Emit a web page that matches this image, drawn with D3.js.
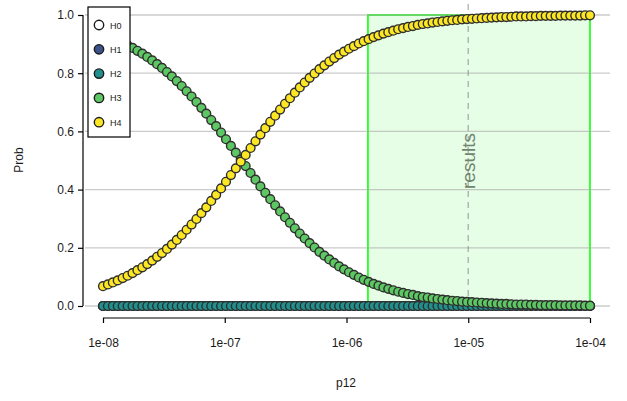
<!DOCTYPE html>
<html>
<head>
<meta charset="utf-8">
<script src="https://cdn.jsdelivr.net/npm/d3@7"></script>
<style>
  html, body { margin: 0; padding: 0; background: #fff; }
  svg { display: block; font-family: "Liberation Sans", Arial, sans-serif; }
</style>
</head>
<body>
<svg id="chart" width="627" height="401"></svg>
<script>
// Sensitivity of hypothesis posteriors to the prior p12
const nPoints = 100;
const p12 = d3.range(nPoints).map(i => Math.pow(10, -8 + 4 * i / (nPoints - 1)));

const H0 = new Array(nPoints).fill(0);
const H1 = new Array(nPoints).fill(0);
const H2 = new Array(nPoints).fill(0);
const H4 = [
  0.068, 0.074, 0.081, 0.088, 0.096, 0.104, 0.113, 0.123, 0.133, 0.144,
  0.156, 0.169, 0.182, 0.196, 0.211, 0.227, 0.244, 0.262, 0.280, 0.299,
  0.319, 0.339, 0.361, 0.382, 0.404, 0.427, 0.450, 0.473, 0.496, 0.519,
  0.543, 0.566, 0.589, 0.611, 0.633, 0.654, 0.675, 0.695, 0.714, 0.733,
  0.751, 0.768, 0.784, 0.799, 0.814, 0.827, 0.840, 0.852, 0.864, 0.874,
  0.884, 0.893, 0.902, 0.910, 0.917, 0.924, 0.930, 0.936, 0.941, 0.946,
  0.951, 0.955, 0.959, 0.962, 0.966, 0.969, 0.971, 0.974, 0.976, 0.978,
  0.980, 0.982, 0.983, 0.985, 0.986, 0.987, 0.988, 0.989, 0.990, 0.991,
  0.992, 0.993, 0.993, 0.994, 0.995, 0.995, 0.995, 0.996, 0.996, 0.997,
  0.997, 0.997, 0.997, 0.998, 0.998, 0.998, 0.998, 0.998, 0.999, 0.999
];
const H3 = [
  0.932, 0.926, 0.919, 0.912, 0.904, 0.896, 0.887, 0.877, 0.867, 0.856,
  0.844, 0.831, 0.818, 0.804, 0.789, 0.773, 0.756, 0.738, 0.720, 0.701,
  0.681, 0.661, 0.639, 0.618, 0.596, 0.573, 0.550, 0.527, 0.504, 0.481,
  0.457, 0.434, 0.411, 0.389, 0.367, 0.346, 0.325, 0.305, 0.286, 0.267,
  0.249, 0.232, 0.216, 0.201, 0.186, 0.173, 0.160, 0.148, 0.136, 0.126,
  0.116, 0.107, 0.098, 0.090, 0.083, 0.076, 0.070, 0.064, 0.059, 0.054,
  0.049, 0.045, 0.041, 0.038, 0.034, 0.031, 0.029, 0.026, 0.024, 0.022,
  0.020, 0.018, 0.017, 0.015, 0.014, 0.013, 0.012, 0.011, 0.010, 0.009,
  0.008, 0.007, 0.007, 0.006, 0.005, 0.005, 0.005, 0.004, 0.004, 0.003,
  0.003, 0.003, 0.003, 0.002, 0.002, 0.002, 0.002, 0.002, 0.001, 0.001
];

const seriesNames = ["H0", "H1", "H2", "H3", "H4"];
const seriesValues = [H0, H1, H2, H3, H4];
const seriesColors = ["#ffffff", "#3b528b", "#21908d", "#5dc863", "#fde725"];

const xTicks = [1e-8, 1e-7, 1e-6, 1e-5, 1e-4];
const xTickLabels = ["1e-08", "1e-07", "1e-06", "1e-05", "1e-04"];
const yTicks = [0, 0.2, 0.4, 0.6, 0.8, 1.0];
const yTickLabels = ["0.0", "0.2", "0.4", "0.6", "0.8", "1.0"];

// highlighted region and reference line
const regionRange = [1.5e-6, 1e-4];
const resultsAt = 1e-5;
const resultsLabel = "results";

const svg = d3.select("#chart");
const x = d3.scaleLog().domain([1e-8, 1e-4]).range([103, 590]);
const y = d3.scaleLinear().domain([0, 1]).range([306, 15]);

// highlighted region (under the grid and the points)
svg.append("rect")
  .attr("x", x(regionRange[0]))
  .attr("y", y(1))
  .attr("width", x(regionRange[1]) - x(regionRange[0]))
  .attr("height", y(0) - y(1))
  .attr("fill", "#e6fde6")
  .attr("stroke", "#00ff00")
  .attr("stroke-width", 1.5);

// horizontal grid
svg.append("g")
  .selectAll("line")
  .data(yTicks)
  .join("line")
  .attr("x1", 85).attr("x2", 610)
  .attr("y1", d => y(d)).attr("y2", d => y(d))
  .attr("stroke", "rgba(160,160,160,0.55)").attr("stroke-width", 1.3);

// reference line and its label
svg.append("line")
  .attr("x1", x(resultsAt)).attr("x2", x(resultsAt))
  .attr("y1", 4).attr("y2", y(0))
  .attr("stroke", "rgba(140,140,140,0.6)").attr("stroke-width", 1.5)
  .attr("stroke-dasharray", "6,5");
svg.append("text")
  .attr("transform", `translate(${x(resultsAt) + 6.5},161) rotate(-90)`)
  .attr("text-anchor", "middle").attr("font-size", 19).attr("fill", "#6f836f")
  .text(resultsLabel);

// y axis (offset to the left of the panel)
const yAxis = svg.append("g")
  .attr("transform", "translate(83,0)")
  .call(d3.axisLeft(y).tickValues(yTicks).tickSize(5).tickPadding(4)
    .tickFormat((d, i) => yTickLabels[i]));
yAxis.select(".domain").attr("d", `M0,${y(0)}V${y(1)}`).attr("stroke", "#000").attr("stroke-width", 1.2);
yAxis.selectAll(".tick line").attr("stroke", "#000").attr("stroke-width", 1.2);
yAxis.selectAll("text").attr("font-size", 12).attr("fill", "#1a1a1a")
  .attr("font-family", "Liberation Sans, Arial, sans-serif");

// x axis (offset below the panel)
const xAxis = svg.append("g")
  .attr("transform", "translate(0,318)")
  .call(d3.axisBottom(x).tickValues(xTicks).tickSize(5).tickPadding(15)
    .tickFormat((d, i) => xTickLabels[i]));
xAxis.select(".domain").attr("d", `M${x(1e-8)},0H${x(1e-4)}`).attr("stroke", "#000").attr("stroke-width", 1.2);
xAxis.selectAll(".tick line").attr("stroke", "#000").attr("stroke-width", 1.2);
xAxis.selectAll("text").attr("font-size", 12).attr("fill", "#1a1a1a")
  .attr("font-family", "Liberation Sans, Arial, sans-serif");

// axis titles
svg.append("text")
  .attr("x", 346).attr("y", 387)
  .attr("text-anchor", "middle").attr("font-size", 12).attr("fill", "#1a1a1a")
  .text("p12");
svg.append("text")
  .attr("transform", "translate(23,160) rotate(-90)")
  .attr("text-anchor", "middle").attr("font-size", 12).attr("fill", "#1a1a1a")
  .text("Prob");

// points for each hypothesis
seriesValues.forEach((vals, s) => {
  svg.append("g")
    .selectAll("circle")
    .data(vals)
    .join("circle")
    .attr("cx", (d, i) => x(p12[i]))
    .attr("cy", d => y(d))
    .attr("r", 4.4)
    .attr("fill", seriesColors[s])
    .attr("stroke", "#2e2e2e")
    .attr("stroke-width", 1.4);
});

// legend
const legend = svg.append("g");
legend.append("rect")
  .attr("x", 88).attr("y", 7).attr("width", 42).attr("height", 130)
  .attr("fill", "#ffffff").attr("stroke", "#000").attr("stroke-width", 1.2);
const items = legend.selectAll("g.item")
  .data(seriesNames)
  .join("g")
  .attr("class", "item")
  .attr("transform", (d, i) => `translate(99,${25 + i * 24.3})`);
items.append("circle")
  .attr("r", 4.7)
  .attr("fill", (d, i) => seriesColors[i])
  .attr("stroke", "#1a1a1a").attr("stroke-width", 1.4);
items.append("text")
  .attr("x", 11).attr("y", 3.5)
  .attr("font-size", 9).attr("fill", "#1a1a1a")
  .text(d => d);
</script>
</body>
</html>
